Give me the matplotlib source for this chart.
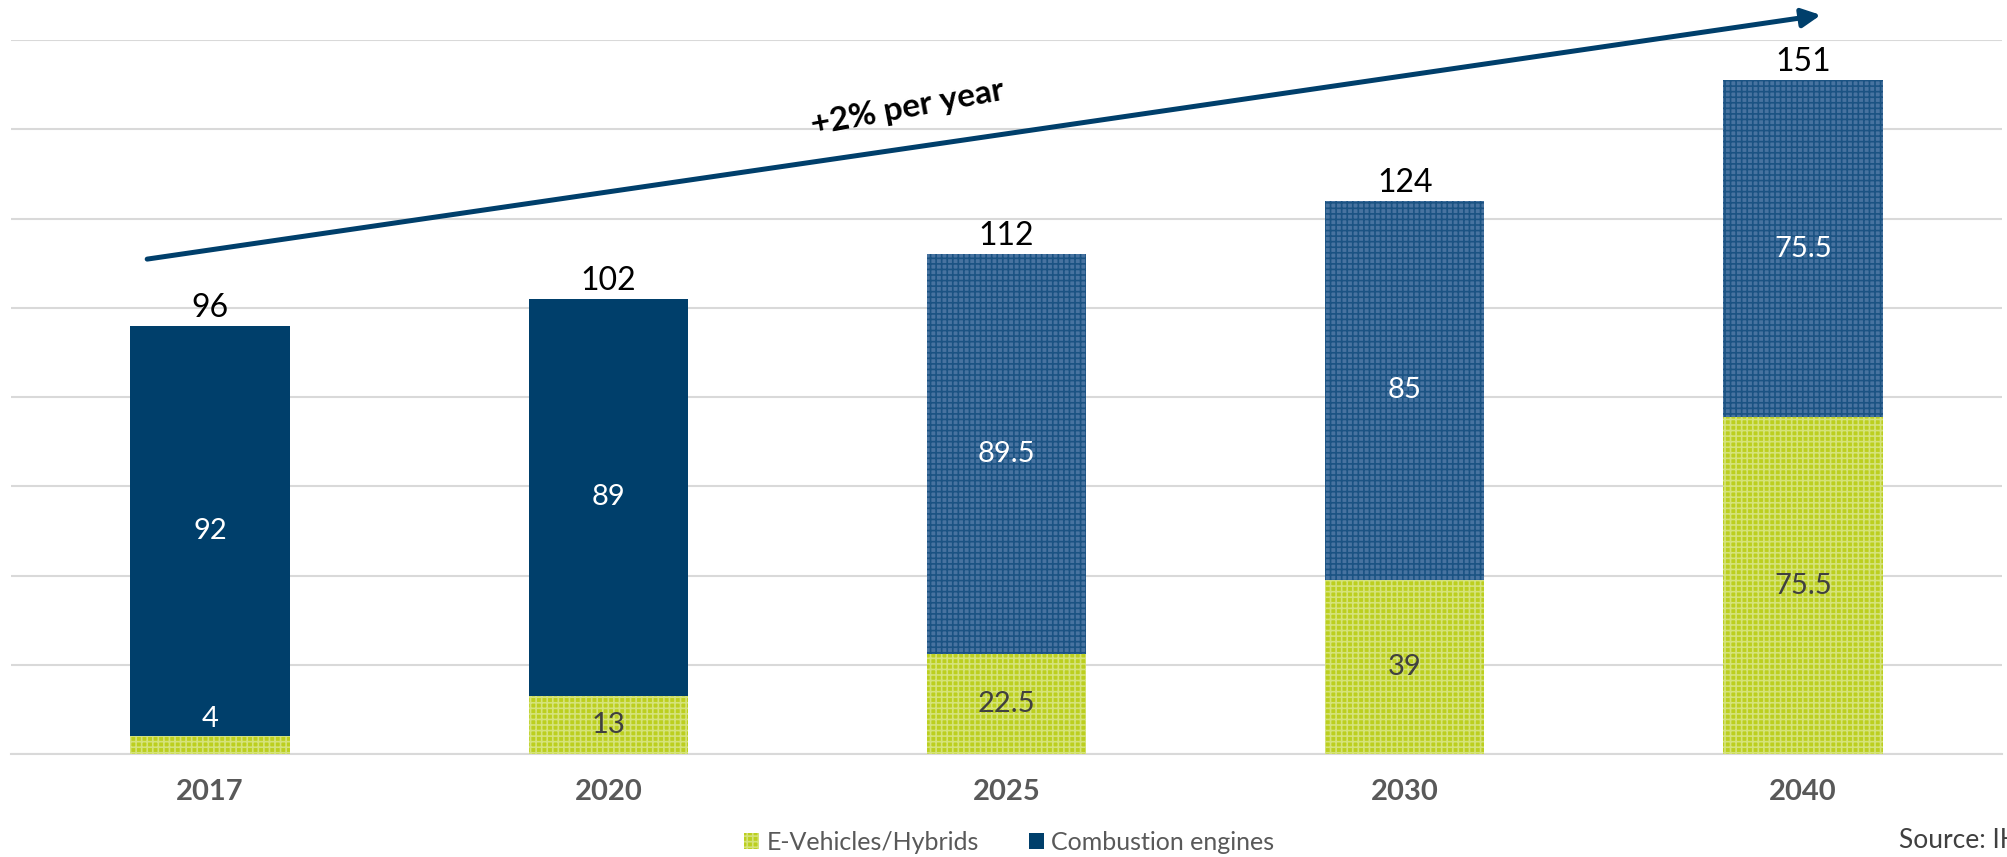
import matplotlib
matplotlib.use("Agg")
import matplotlib.pyplot as plt
from matplotlib.patches import Patch

plt.rcParams['font.family'] = ['Lato', 'DejaVu Sans']
plt.rcParams['hatch.linewidth'] = 1.2

# datos
anios = ['2017', '2020', '2025', '2030', '2040']
e_vehiculos = [4, 13, 22.5, 39, 75.5]
combustion = [92, 89, 89.5, 85, 75.5]
totales = [96, 102, 112, 124, 151]
pronostico = [False, False, True, True, True]  # barras con trama

azul = '#003f6b'
azul_trama = '#4873a0'
azul_linea = '#1b5383'
verde = '#bccf1f'
verde_linea = '#d5e37a'

fig = plt.figure(figsize=(20.07, 8.57), dpi=100)
ax = fig.add_axes([11/2007, 103/857, 1991/2007, 714/857])

x = range(len(anios))
b_verde = ax.bar(x, e_vehiculos, width=0.40, color=verde, edgecolor=verde_linea,
                 linewidth=0, hatch='+++', zorder=3)
b_azul = ax.bar(x, combustion, width=0.40, bottom=e_vehiculos, color=azul,
                linewidth=0, zorder=3)
for p, trama in zip(b_azul, pronostico):
    if trama:
        p.set_facecolor(azul_trama)
        p.set_edgecolor(azul_linea)
        p.set_hatch('+++')

# etiquetas dentro de las barras
for i in x:
    ev = e_vehiculos[i]
    if ev > 8:
        ax.text(i, ev / 2, f'{ev:g}', ha='center', va='center', fontsize=21,
                color='#404040', zorder=5)
    else:
        ax.text(i, ev + 3.8, f'{ev:g}', ha='center', va='center', fontsize=21,
                color='white', zorder=5)
    ax.text(i, ev + combustion[i] / 2, f'{combustion[i]:g}', ha='center',
            va='center', fontsize=21, color='white', zorder=5)
    ax.annotate(f'{totales[i]}', (i, totales[i]), xytext=(0, 2),
                textcoords='offset points', ha='center', va='bottom',
                fontsize=23, color='black', zorder=5)

# flecha de tendencia
ax.annotate('', xy=(4.045, 165.6), xytext=(-0.158, 110.9),
            arrowprops=dict(arrowstyle='-|>', color=azul, lw=3.6,
                            mutation_scale=28, shrinkA=0, shrinkB=0,
                            capstyle='round'),
            annotation_clip=False, zorder=6)
ax.text(1.751, 144.8, '+2% per year', rotation=10.5, rotation_mode='anchor',
        ha='center', va='center', fontsize=24, fontweight='bold', color='black')

ax.set_xlim(-0.5, 4.5)
ax.set_ylim(0, 160)
ax.set_yticks(range(0, 161, 20))
ax.set_yticklabels([])
ax.tick_params(axis='y', length=0)
ax.tick_params(axis='x', length=0, pad=18, labelsize=21, labelcolor='#595959')
ax.set_xticks(list(x))
ax.set_xticklabels(anios, fontweight='bold')
ax.grid(axis='y', color='#d9d9d9', linewidth=1.5, zorder=0)
ax.set_axisbelow(True)
for s in ['top', 'right', 'left']:
    ax.spines[s].set_visible(False)
ax.spines['bottom'].set_color('#d9d9d9')
ax.spines['bottom'].set_linewidth(1.5)

manijas = [Patch(facecolor=verde, edgecolor=verde_linea, hatch='+++', linewidth=0),
           Patch(facecolor=azul, linewidth=0)]
fig.legend(manijas, ['E-Vehicles/Hybrids', 'Combustion engines'], loc='center',
           bbox_to_anchor=(1009/2007, 15/857), ncol=2, frameon=False, fontsize=18,
           handlelength=0.6, handleheight=0.6, handletextpad=0.3,
           columnspacing=2.0, labelcolor='#595959')

fig.text(1899/2007, 16/857, 'Source: IHS Markit', fontsize=19, color='#404040',
         ha='left', va='center')

fig.savefig('out.png', dpi=100)
